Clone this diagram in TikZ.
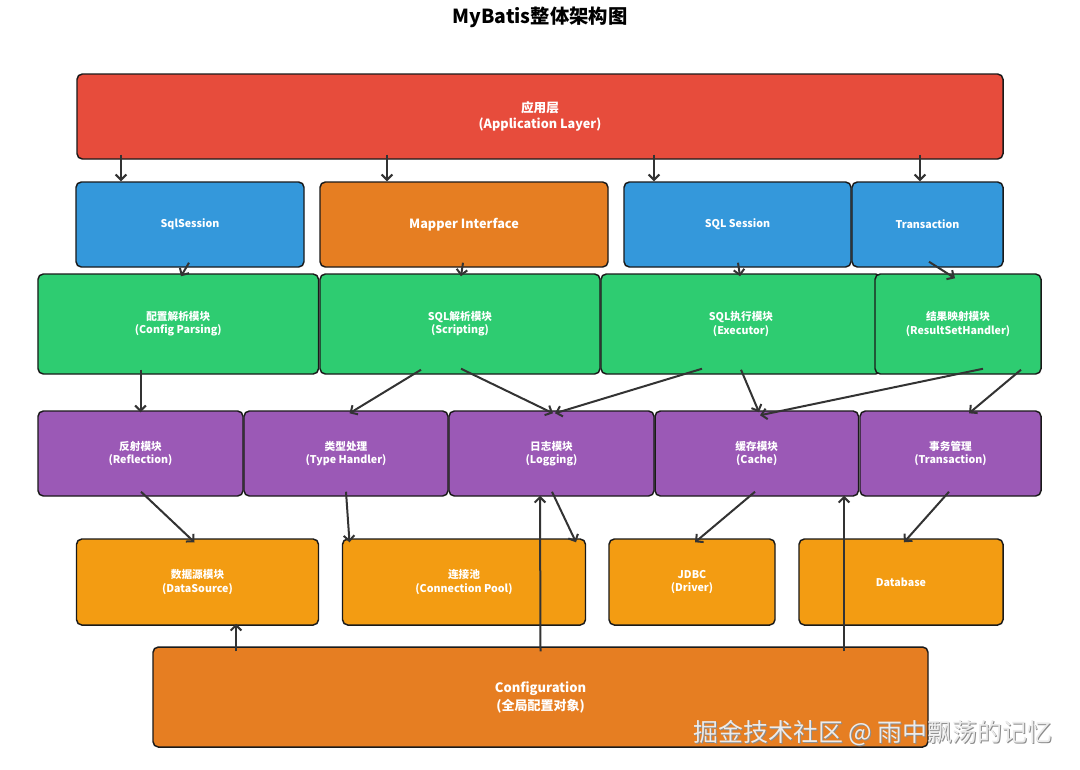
\documentclass[tikz,border=0pt]{standalone}
\usepackage{fontspec}
\setmainfont{Noto Sans CJK SC}
\usetikzlibrary{arrows.meta,calc}
\definecolor{cred}{HTML}{E74C3C}
\definecolor{cblue}{HTML}{3498DB}
\definecolor{corange}{HTML}{E67E22}
\definecolor{cgreen}{HTML}{2ECC71}
\definecolor{cpurple}{HTML}{9B59B6}
\definecolor{cyellow}{HTML}{F39C12}
\definecolor{carrow}{HTML}{333333}
\definecolor{cborder}{HTML}{1A1A1A}
\begin{document}
\begin{tikzpicture}[x=0.75pt,y=-0.75pt,
  box/.style={draw=cborder, line width=1.1pt, rounded corners=4pt, text=white,
    font=\bfseries\fontsize{8}{10}\selectfont, align=center, inner sep=0pt},
  arr/.style={draw=carrow, line width=1.5pt, -{Straight Barb[length=4pt,width=8pt]}},
  ]
\useasboundingbox[fill=white] (0,0) rectangle (1080,769);

\node[font=\bfseries\fontsize{14.5}{16}\selectfont] (title) at (540,17) {MyBatis整体架构图};

% row 1
\node[box, fill=cred, minimum width=694.5pt, minimum height=63.75pt,
  font=\bfseries\fontsize{9.5}{12}\selectfont] (app) at (540,116.5) {应用层\\(Application Layer)};

% row 2
\node[box, fill=cblue, minimum width=171pt, minimum height=63.75pt] (sqls) at (190,224.5) {SqlSession};
\node[box, fill=corange, minimum width=216pt, minimum height=63.75pt,
  font=\bfseries\fontsize{9.5}{12}\selectfont] (mapper) at (464,224.5) {Mapper Interface};
\node[box, fill=cblue, minimum width=170.25pt, minimum height=63.75pt] (sqlsess) at (737.5,224.5) {SQL Session};
\node[box, fill=cblue, minimum width=113.25pt, minimum height=63.75pt] (trans) at (927.5,224.5) {Transaction};

% row 3
\node[box, fill=cgreen, minimum width=210.4pt, minimum height=75pt] (cfgp) at (178.25,324) {配置解析模块\\(Config Parsing)};
\node[box, fill=cgreen, minimum width=210pt, minimum height=75pt] (script) at (460,324) {SQL解析模块\\(Scripting)};
\node[box, fill=cgreen, minimum width=210pt, minimum height=75pt] (exec) at (741,324) {SQL执行模块\\(Executor)};
\node[box, fill=cgreen, minimum width=124.5pt, minimum height=75pt] (rsh) at (958,324) {结果映射模块\\(ResultSetHandler)};

% row 4
\node[box, fill=cpurple, minimum width=153.75pt, minimum height=63.75pt] (refl) at (140.5,453.5) {反射模块\\(Reflection)};
\node[box, fill=cpurple, minimum width=153pt, minimum height=63.75pt] (typeh) at (346,453.5) {类型处理\\(Type Handler)};
\node[box, fill=cpurple, minimum width=153.75pt, minimum height=63.75pt] (log) at (551.5,453.5) {日志模块\\(Logging)};
\node[box, fill=cpurple, minimum width=152.6pt, minimum height=63.75pt] (cache) at (756.75,453.5) {缓存模块\\(Cache)};
\node[box, fill=cpurple, minimum width=135.75pt, minimum height=63.75pt] (txm) at (950.5,453.5) {事务管理\\(Transaction)};

% row 5
\node[box, fill=cyellow, minimum width=181.5pt, minimum height=64.5pt] (ds) at (197.5,582) {数据源模块\\(DataSource)};
\node[box, fill=cyellow, minimum width=182.25pt, minimum height=64.5pt] (pool) at (464,582) {连接池\\(Connection Pool)};
\node[box, fill=cyellow, minimum width=124.5pt, minimum height=64.5pt] (jdbc) at (692,582) {JDBC\\(Driver)};
\node[box, fill=cyellow, minimum width=153pt, minimum height=64.5pt] (db) at (901,582) {Database};

% configuration
\node[box, fill=corange, minimum width=581.25pt, minimum height=75pt,
  font=\bfseries\fontsize{9.75}{13.5}\selectfont] (conf) at (540.5,697) {Configuration\\(全局配置对象)};

% arrows: app -> row 2
\draw[arr] ($(app.south)+(-419,-5)$) -- ($(sqls.north)+(-69,0)$);
\draw[arr] ($(app.south)+(-153,-5)$) -- ($(mapper.north)+(-77,0)$);
\draw[arr] ($(app.south)+(114,-5)$) -- ($(sqlsess.north)+(-83.5,0)$);
\draw[arr] ($(app.south)+(380,-5)$) -- ($(trans.north)+(-7.5,0)$);

% row 2 -> row 3
\draw[arr] ($(sqls.south)+(-1,-5)$) -- ($(cfgp.north)+(2.75,3)$);
\draw[arr] ($(mapper.south)+(-1,-5)$) -- ($(script.north)+(1,3)$);
\draw[arr] ($(sqlsess.south)+(0.5,-5)$) -- ($(exec.north)+(-1,3)$);
\draw[arr] ($(trans.south)+(1.5,-6)$) -- ($(rsh.north)+(-3,5)$);

% row 3 -> row 4
\draw[arr] ($(cfgp.south)+(-37.75,-5)$) -- ($(refl.north)+(0,2)$);
\draw[arr] ($(script.south)+(-39,-5)$) -- ($(typeh.north)+(3.5,3)$);
\draw[arr] ($(script.south)+(1,-6)$) -- ($(log.north)+(1.5,3)$);
\draw[arr] ($(exec.south)+(-39,-6)$) -- ($(log.north)+(3.5,3)$);
\draw[arr] ($(exec.south)+(0,-5)$) -- ($(cache.north)+(2.25,2)$);
\draw[arr] ($(rsh.south)+(25,-6)$) -- ($(cache.north)+(3.25,5)$);
\draw[arr] ($(rsh.south)+(63,-5)$) -- ($(txm.north)+(18.5,3)$);

% row 4 -> row 5
\draw[arr] ($(refl.south)+(0.5,-5)$) -- ($(ds.north)+(-3,4)$);
\draw[arr] ($(typeh.south)+(0,-5)$) -- ($(pool.north)+(-114.5,4)$);
\draw[arr] ($(log.south)+(0.5,-5)$) -- ($(pool.north)+(112,4)$);
\draw[arr] ($(cache.south)+(-1.75,-5)$) -- ($(jdbc.north)+(3,4)$);
\draw[arr] ($(txm.south)+(-1.5,-5)$) -- ($(db.north)+(3,4)$);

% configuration -> upper modules
\draw[arr] ($(conf.north)+(-304.5,5)$) -- ($(ds.south)+(38.5,-2)$);
\draw[arr] ($(conf.north)+(0,5)$) -- ($(log.south)+(-11.5,-1)$);
\draw[arr] ($(conf.north)+(303.5,5)$) -- ($(cache.south)+(87.25,-1)$);

% watermark
\node[anchor=east, text=black!45, font=\fontsize{18.7}{21}\selectfont] (wmshadow) at (1058,734.5) {掘金技术社区 @ 雨中飘荡的记忆};
\node[anchor=east, text=black!8, font=\fontsize{18.7}{21}\selectfont] (wm) at (1057,733) {掘金技术社区 @ 雨中飘荡的记忆};
\end{tikzpicture}
\end{document}
